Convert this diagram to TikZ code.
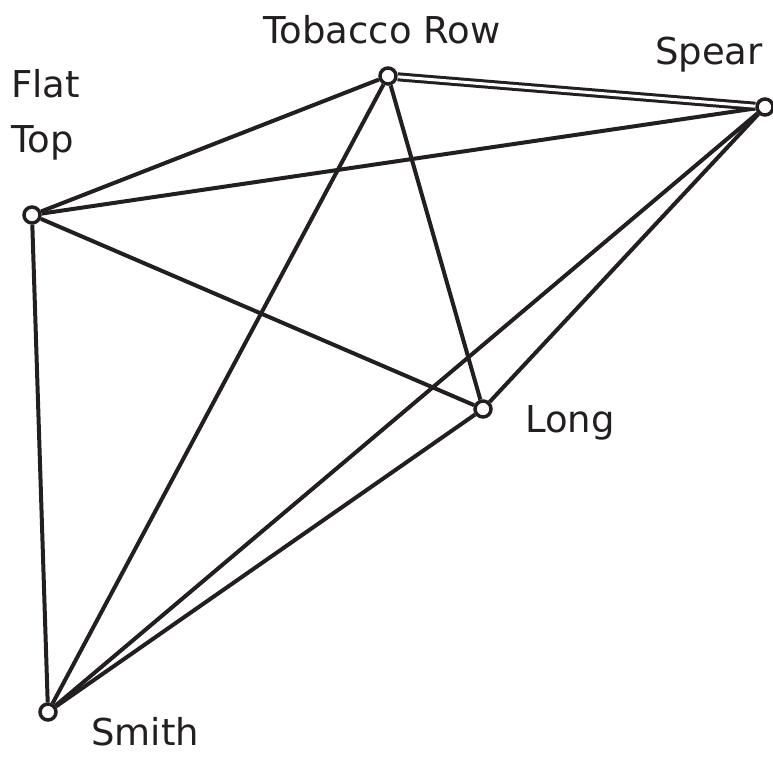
\documentclass[tikz,border=0pt]{standalone}
\usepackage{fontspec}
\setmainfont{DejaVu Sans}
\definecolor{ink}{HTML}{231F20}
\begin{document}
\begin{tikzpicture}[x=1pt,y=-1pt,
  vert/.style={circle,draw=ink,fill=white,line width=3.5pt,inner sep=0pt,minimum size=16pt},
  edge/.style={draw=ink,line width=4pt},
  lbl/.style={inner sep=0pt,text=ink,font=\fontsize{37}{44}\selectfont}]
\useasboundingbox (0,0) rectangle (773,756);
\node[vert] (ft) at (32,215) {};
\node[vert] (tr) at (388,76) {};
\node[vert] (sp) at (765,107) {};
\node[vert] (lg) at (483,409) {};
\node[vert] (sm) at (48,712) {};
\draw[edge] (ft) -- (tr);
\draw[edge] (ft) -- (sp);
\draw[edge] (ft) -- (lg);
\draw[edge] (ft) -- (sm);
\draw[edge,double=white,double distance=3pt,line width=3pt] (tr) -- (sp);
\draw[edge] (tr) -- (sm);
\draw[edge] (tr) -- (lg);
\draw[edge] (lg) -- (sp);
\draw[edge] (lg) -- (sm);
\draw[edge] (sm) -- (sp);
\node[lbl,anchor=base] (ltr) at (382,43) {Tobacco Row};
\node[lbl,anchor=base] (lsp) at (709,64) {Spear};
\node[lbl,anchor=base west] (lft1) at (11,97) {Flat};
\node[lbl,anchor=base west] (lft2) at (11,152) {Top};
\node[lbl,anchor=base west] (llg) at (525,432) {Long};
\node[lbl,anchor=base west,text depth=0pt] (lsm) at (91,745) {Smith};
\end{tikzpicture}
\end{document}
